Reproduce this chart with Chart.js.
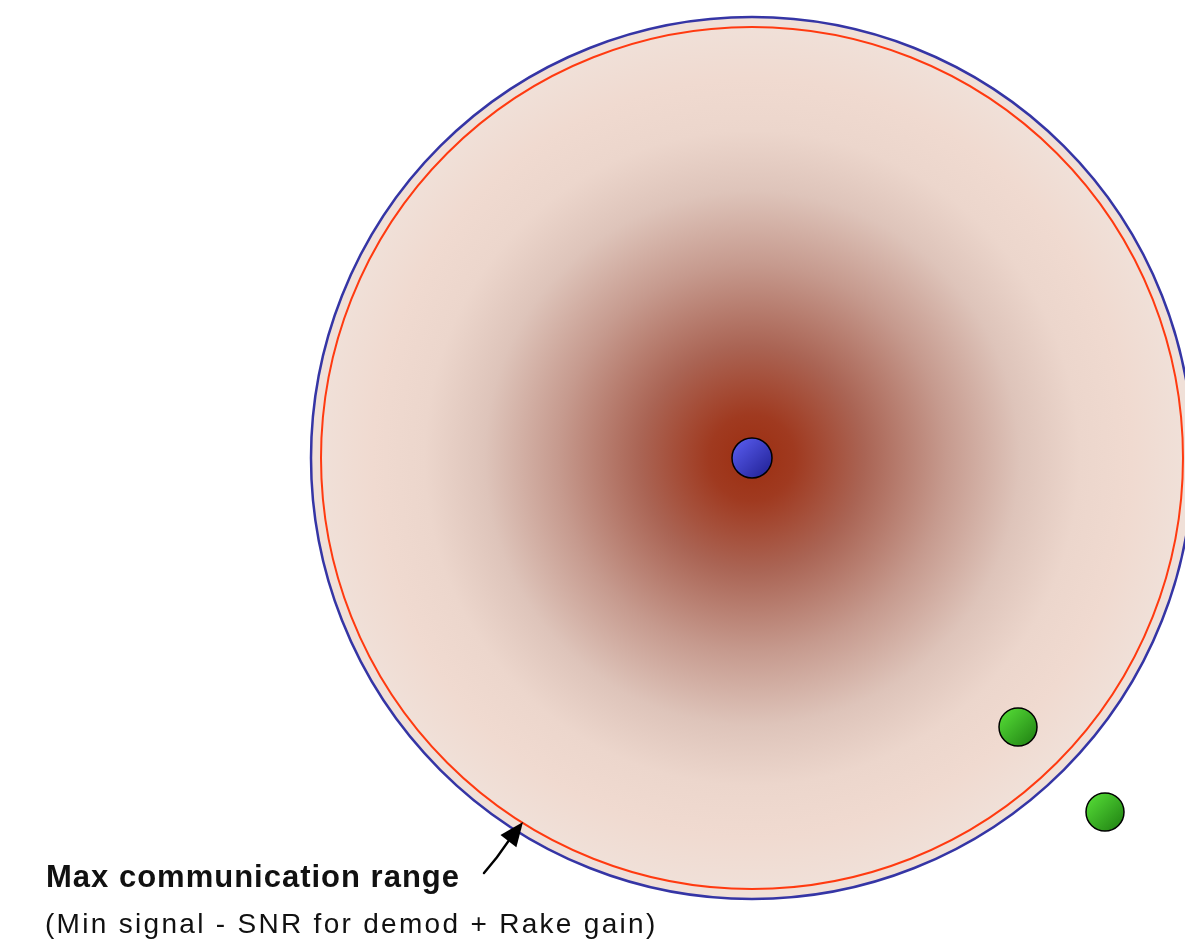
<!DOCTYPE html>
<html>
<head>
<meta charset="utf-8">
<script src="https://cdn.jsdelivr.net/npm/chart.js@4.4.1/dist/chart.umd.min.js"></script>
<style>
  html, body { margin: 0; padding: 0; background: #ffffff; }
  #wrap { width: 1185px; height: 941px; position: relative; }
</style>
</head>
<body>
<div id="wrap"><canvas id="c"></canvas></div>
<script>
// ---- data (plane units, base station at origin, y up) ----
const baseStation = [{ x: 0, y: 0 }];
const terminalsX = [266, 353];
const terminalsY = [-269, -354];
const rangeNames = ['Max communication range', 'Min signal range'];
const rangeRadii = [441, 431];
const arrowFrom = { x: -268, y: -415 };
const arrowTo = { x: -229, y: -364 };
const labelLines = ['Max communication range', '(Min signal - SNR for demod + Rake gain)'];

// extents of the view
const xMin = -752, xMax = 433, yMin = -483, yMax = 458;

const terminals = terminalsX.map((x, i) => ({ x: x, y: terminalsY[i] }));

function ballGradient(ctx, light, dark) {
  const c = ctx.chart.ctx;
  const el = ctx.element;
  if (!el || el.x === undefined) return light;
  const r = 20;
  const g = c.createLinearGradient(el.x - r, el.y - r, el.x + r, el.y + r);
  g.addColorStop(0, light);
  g.addColorStop(1, dark);
  return g;
}

const rangePlugin = {
  id: 'ranges',
  beforeDatasetsDraw(chart) {
    const c = chart.ctx;
    const xs = chart.scales.x, ys = chart.scales.y;
    const cx = xs.getPixelForValue(0), cy = ys.getPixelForValue(0);
    const rOuter = xs.getPixelForValue(rangeRadii[0]) - cx;
    const rInner = xs.getPixelForValue(rangeRadii[1]) - cx;
    c.save();
    // radial signal field
    const g = c.createRadialGradient(cx, cy, 0, cx, cy, rInner);
    g.addColorStop(0.00, 'rgb(156,46,16)');
    g.addColorStop(0.10, 'rgb(160,58,32)');
    g.addColorStop(0.26, 'rgb(170,100,84)');
    g.addColorStop(0.45, 'rgb(198,154,142)');
    g.addColorStop(0.62, 'rgb(222,196,186)');
    g.addColorStop(0.76, 'rgb(236,214,204)');
    g.addColorStop(0.88, 'rgb(240,218,208)');
    g.addColorStop(1.00, 'rgb(240,224,216)');
    c.beginPath();
    c.arc(cx, cy, rOuter, 0, Math.PI * 2);
    c.fillStyle = 'rgb(240,224,216)';
    c.fill();
    c.beginPath();
    c.arc(cx, cy, rInner, 0, Math.PI * 2);
    c.fillStyle = g;
    c.fill();
    // range rings
    c.lineWidth = 2.5;
    c.strokeStyle = '#3535a5';
    c.beginPath();
    c.arc(cx, cy, rOuter, 0, Math.PI * 2);
    c.stroke();
    c.lineWidth = 2;
    c.strokeStyle = '#ff3a10';
    c.beginPath();
    c.arc(cx, cy, rInner, 0, Math.PI * 2);
    c.stroke();
    c.restore();
  },
  afterDatasetsDraw(chart) {
    const c = chart.ctx;
    const xs = chart.scales.x, ys = chart.scales.y;
    const x0 = xs.getPixelForValue(arrowFrom.x), y0 = ys.getPixelForValue(arrowFrom.y);
    const x1 = xs.getPixelForValue(arrowTo.x), y1 = ys.getPixelForValue(arrowTo.y);
    c.save();
    c.strokeStyle = '#000';
    c.fillStyle = '#000';
    c.lineWidth = 2.5;
    c.lineCap = 'round';
    const ang = Math.atan2(y1 - y0, x1 - x0);
    const hl = 24, hw = 10;
    const bx = x1 - Math.cos(ang) * hl, by = y1 - Math.sin(ang) * hl;
    c.beginPath();
    c.moveTo(x0, y0);
    c.quadraticCurveTo((x0 + bx) / 2 + 1, (y0 + by) / 2 + 1, bx, by);
    c.stroke();
    c.beginPath();
    c.moveTo(x1, y1);
    c.lineTo(bx + Math.sin(ang) * hw, by - Math.cos(ang) * hw);
    c.lineTo(bx - Math.sin(ang) * hw, by + Math.cos(ang) * hw);
    c.closePath();
    c.fill();
    // labels
    const a = chart.chartArea;
    c.textBaseline = 'alphabetic';
    c.textAlign = 'left';
    c.fillStyle = '#111';
    c.font = 'bold 31px "Liberation Sans", Arial, sans-serif';
    c.letterSpacing = '1px';
    c.fillText(labelLines[0], a.left + 46, a.top + 887);
    c.font = '28px "Liberation Sans", Arial, sans-serif';
    c.letterSpacing = '2.3px';
    c.fillText(labelLines[1], a.left + 45, a.top + 933);
    c.letterSpacing = '0px';
    c.restore();
  }
};

new Chart(document.getElementById('c'), {
  type: 'scatter',
  data: {
    datasets: [
      {
        label: 'Base station',
        data: baseStation,
        pointRadius: 20,
        pointHoverRadius: 20,
        borderColor: '#000',
        borderWidth: 1.5,
        backgroundColor: (ctx) => ballGradient(ctx, '#5c60f5', '#1e1e90')
      },
      {
        label: 'Terminals',
        data: terminals,
        pointRadius: 19,
        pointHoverRadius: 19,
        borderColor: '#000',
        borderWidth: 1.5,
        backgroundColor: (ctx) => ballGradient(ctx, '#5ae53a', '#1c7a10')
      }
    ]
  },
  options: {
    responsive: true,
    maintainAspectRatio: false,
    animation: false,
    events: [],
    layout: { padding: 0, autoPadding: false },
    plugins: { legend: { display: false }, tooltip: { enabled: false } },
    scales: {
      x: { type: 'linear', min: xMin, max: xMax, display: false },
      y: { type: 'linear', min: yMin, max: yMax, display: false }
    }
  },
  plugins: [rangePlugin]
});
</script>
</body>
</html>
